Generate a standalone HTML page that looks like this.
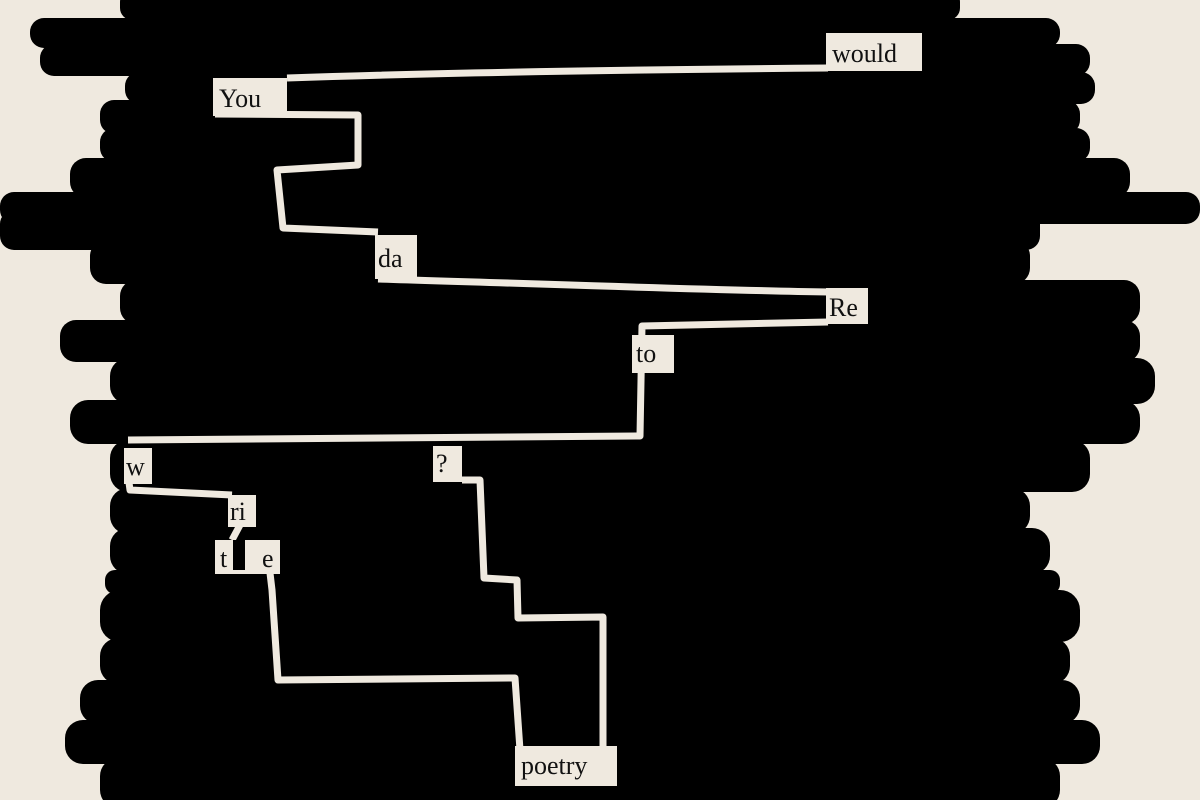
<!DOCTYPE html>
<html><head><meta charset="utf-8"><style>
html,body{margin:0;padding:0;background:#efe9df;}
svg{display:block}
text{font-family:"Liberation Serif",serif;font-size:26px;fill:#111;}
</style></head><body>
<svg width="1200" height="800" viewBox="0 0 1200 800" xmlns="http://www.w3.org/2000/svg">
<rect width="1200" height="800" fill="#efe9df"/>
<g fill="#000">
<rect x="120" y="-10" width="840" height="30" rx="12"/>
<rect x="30" y="18" width="1030" height="30" rx="14"/>
<rect x="40" y="44" width="1050" height="32" rx="14"/>
<rect x="125" y="72" width="970" height="32" rx="14"/>
<rect x="100" y="100" width="980" height="34" rx="14"/>
<rect x="100" y="128" width="990" height="34" rx="14"/>
<rect x="70" y="158" width="1060" height="40" rx="16"/>
<rect x="0" y="192" width="1200" height="32" rx="14"/>
<rect x="0" y="210" width="1040" height="40" rx="14"/>
<rect x="90" y="240" width="940" height="44" rx="16"/>
<rect x="120" y="280" width="1020" height="44" rx="16"/>
<rect x="60" y="320" width="1080" height="42" rx="16"/>
<rect x="110" y="358" width="1045" height="46" rx="18"/>
<rect x="70" y="400" width="1070" height="44" rx="18"/>
<rect x="110" y="440" width="980" height="52" rx="18"/>
<rect x="110" y="488" width="920" height="46" rx="18"/>
<rect x="110" y="528" width="940" height="46" rx="18"/>
<rect x="105" y="570" width="955" height="24" rx="10"/>
<rect x="100" y="590" width="980" height="52" rx="20"/>
<rect x="100" y="638" width="970" height="46" rx="18"/>
<rect x="80" y="680" width="1000" height="44" rx="18"/>
<rect x="65" y="720" width="1035" height="44" rx="18"/>
<rect x="100" y="758" width="960" height="50" rx="18"/>
</g>
<g fill="none" stroke="#efe9df" stroke-width="7" stroke-linejoin="round">
<path d="M828,68 C600,70 400,74 287,78"/>
<path d="M215,114 L358,115 L358,165 L277,170 L283,228 L378,232"/>
<path d="M378,279 C550,284 700,290 828,292"/>
<path d="M828,322 L642,326 L640,436 L128,440"/>
<path d="M128,475 L130,490 L232,495"/>
<path d="M240,525 L232,540"/>
<path d="M270,573 L272,590 L278,680 L515,678 L520,750"/>
<path d="M603,748 L603,617 L518,618 L517,580 L484,578 L480,480 L462,480"/>
</g>
<g fill="#efe9df">
<rect x="826" y="33" width="96" height="38"/>
<rect x="213" y="78" width="74" height="38"/>
<rect x="375" y="235" width="42" height="44"/>
<rect x="826" y="288" width="42" height="36"/>
<rect x="632" y="335" width="42" height="38"/>
<rect x="124" y="448" width="28" height="36"/>
<rect x="433" y="446" width="29" height="36"/>
<rect x="228" y="495" width="28" height="32"/>
<rect x="215" y="540" width="65" height="34"/>
<rect x="515" y="746" width="102" height="40"/>
</g>
<rect x="233" y="540" width="12" height="30" fill="#000"/>
<text x="832" y="62">would</text>
<text x="219" y="107">You</text>
<text x="378" y="267">da</text>
<text x="829" y="316">Re</text>
<text x="636" y="362">to</text>
<text x="126" y="475">w</text>
<text x="436" y="472">?</text>
<text x="230" y="520">ri</text>
<text x="220" y="567">t</text>
<text x="262" y="567">e</text>
<text x="521" y="774">poetry</text>
</svg>
</body></html>
